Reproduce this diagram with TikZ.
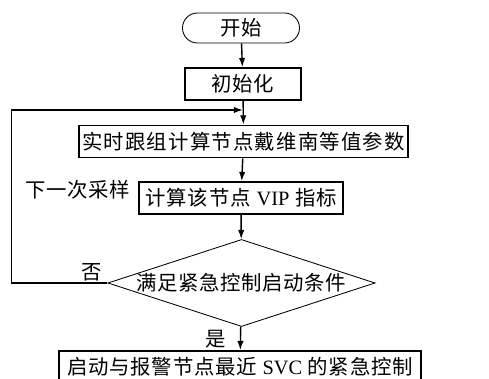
\documentclass[tikz,border=0pt]{standalone}
\usepackage{fontspec}
\setmainfont{Noto Sans CJK SC}
\newfontfamily\lat{Liberation Serif}
\usetikzlibrary{arrows.meta,shapes.geometric}
\tikzset{
  txt/.style={font=\fontsize{14.5}{16}\selectfont\addfontfeature{LetterSpace=#1}},
  txt/.default=3,
  startbox/.style={draw, rectangle, rounded corners=0.375cm, line width=0.6pt,
    minimum height=0.75cm, inner sep=0pt, txt},
  procbox/.style={draw, rectangle, line width=1.3pt, minimum height=0.8cm,
    inner sep=0pt, txt},
  decision/.style={draw, diamond, shape aspect=3.07, line width=0.6pt,
    inner sep=0pt, minimum width=6.675cm, minimum height=2.175cm, txt},
  flow/.style={line width=1pt, -{Latex[length=6.5pt,width=4.5pt]}}
}
\begin{document}
\begin{tikzpicture}[x=0.025cm,y=-0.025cm]
\useasboundingbox (0,0) rectangle (489,379);
\node[startbox, minimum width=2.925cm] (start) at (241,28) {开始};
\node[procbox, minimum width=2.9cm] (init) at (243,84) {初始化};
\node[procbox, minimum width=8.225cm, txt=6] (track) at (243.5,141.5) {实时跟组计算节点戴维南等值参数};
\node[procbox, minimum width=5.1cm, txt=5] (vip) at (241,198) {计算该节点 {\lat VIP} 指标};
\node[decision] (cond) at (241.5,283) {满足紧急控制启动条件};
\node[procbox, minimum width=9.05cm, txt=4] (act) at (240,367) {启动与报警节点最近 {\lat SVC} 的紧急控制};
\coordinate (merge) at (243,110);
% labels
\node[txt] (next) at (78,190) {下一次采样};
\node[txt] (no) at (92,272) {否};
\node[txt] (yes) at (216,339) {是};
% connectors
\draw[flow] (start) -- (init);
\draw[flow] (init) -- (track);
\draw[flow] (track) -- (vip);
\draw[flow] (vip) -- (cond);
\draw[flow] (cond) -- (act);
\draw[flow] (cond.west) -- ++(-96,0) |- (merge);
\end{tikzpicture}
\end{document}
